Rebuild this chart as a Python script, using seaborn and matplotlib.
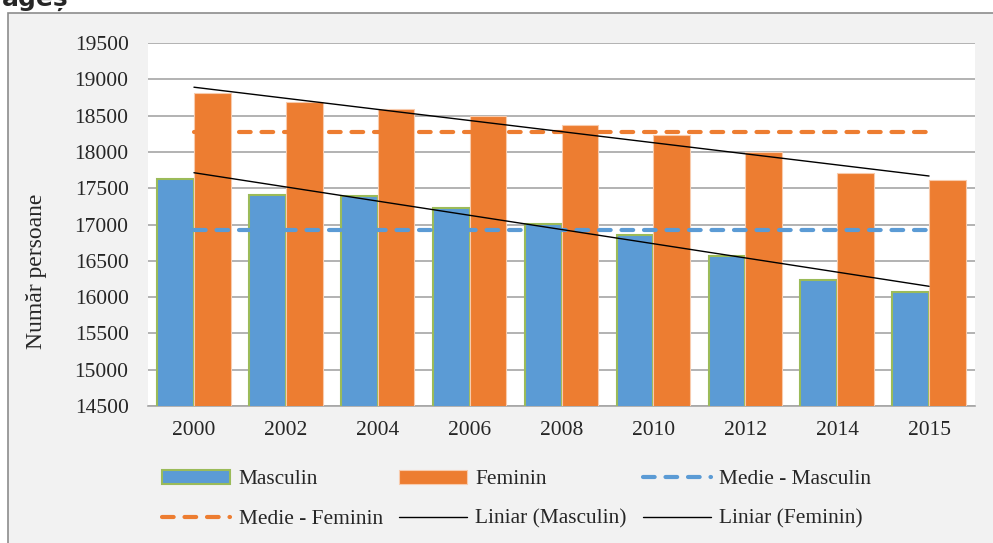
import numpy as np
import pandas as pd
import matplotlib
matplotlib.use('Agg')
import matplotlib.pyplot as plt
import matplotlib.patches as mpatches
from matplotlib.lines import Line2D
import seaborn as sns

# Date: numar persoane pe sexe
ani = ['2000', '2002', '2004', '2006', '2008', '2010', '2012', '2014', '2015']
masculin = [17620, 17406, 17390, 17227, 17010, 16855, 16566, 16235, 16070]
feminin = [18815, 18691, 18587, 18494, 18370, 18230, 18003, 17713, 17613]
y_ticks = list(range(14500, 20000, 500))

col_m = '#5b9bd5'
col_f = '#ed7d31'

df = pd.DataFrame({
    'An': ani * 2,
    'Numar': masculin + feminin,
    'Sex': ['Masculin'] * len(ani) + ['Feminin'] * len(ani),
})

sns.set_theme(style='white')
plt.rcParams['font.family'] = ['Liberation Serif', 'DejaVu Serif']

fig = plt.figure(figsize=(9.93, 5.43), dpi=100)
fig.patch.set_facecolor('white')

# fundal gri al graficului
bg = mpatches.Rectangle((8 / 993, -0.05), 1.1, 1 - 13 / 543 + 0.05,
                        transform=fig.transFigure, facecolor='#f2f2f2',
                        edgecolor='#8c8c8c', linewidth=1.2, zorder=-10)
fig.patches.append(bg)

# titlu taiat in partea de sus
fig.text(2 / 993, 1 - 6 / 543, 'ageș', fontsize=18, fontweight='bold',
         family=['DejaVu Sans'], va='baseline', ha='left')

ax = fig.add_axes([148 / 993, (543 - 406) / 543, 827 / 993, 363 / 543])
ax.set_facecolor('white')

sns.barplot(data=df, x='An', y='Numar', hue='Sex', palette=[col_m, col_f],
            width=0.8, saturation=1, ax=ax, legend=False, zorder=3)

for bar in ax.containers[0]:
    bar.set_edgecolor('#9bbb59')
    bar.set_linewidth(1.5)
for bar in ax.containers[1]:
    bar.set_edgecolor('#f8cbad')
    bar.set_linewidth(0.8)

x = np.arange(len(ani))
medie_m = np.mean(masculin)
medie_f = np.mean(feminin)
dash = (0, (2.8, 2.6))
ax.plot([x[0], x[-1]], [medie_m, medie_m], color=col_m, lw=3, ls=dash,
        dash_capstyle='round', zorder=4)
ax.plot([x[0], x[-1]], [medie_f, medie_f], color=col_f, lw=3, ls=dash,
        dash_capstyle='round', zorder=4)

# linii de tendinta liniara
pm = np.polyfit(x + 1, masculin, 1)
pf = np.polyfit(x + 1, feminin, 1)
ax.plot(x, np.polyval(pm, x + 1), color='black', lw=1, zorder=5)
ax.plot(x, np.polyval(pf, x + 1), color='black', lw=1, zorder=5)

ax.set_ylim(14500, 19500)
ax.set_xlim(-0.5, len(ani) - 0.5)
ax.set_yticks(y_ticks)
ax.set_yticklabels([str(v) for v in y_ticks], fontsize=15.5)
ax.set_xticks(x)
ax.set_xticklabels(ani, fontsize=15.5)
ax.tick_params(axis='y', length=0, pad=14)
ax.tick_params(axis='x', length=0, pad=11)
ax.yaxis.grid(True, color='#a6a6a6', linewidth=1.2, zorder=0)
ax.set_axisbelow(True)
for s in ['top', 'right', 'left']:
    ax.spines[s].set_visible(False)
ax.spines['bottom'].set_color('#a6a6a6')
ax.spines['bottom'].set_linewidth(1.2)

ax.set_xlabel('')
ax.set_ylabel('Număr persoane', fontsize=17)
ax.yaxis.set_label_coords((47 - 148) / 827, (406 - 271) / 363)

# legenda
h_m = mpatches.Patch(facecolor=col_m, edgecolor='#9bbb59', linewidth=1.5, label='Masculin')
h_f = mpatches.Patch(facecolor=col_f, edgecolor='#f8cbad', linewidth=0.8, label='Feminin')
h_mm = Line2D([], [], color=col_m, lw=3, ls=dash, dash_capstyle='round', label='Medie - Masculin')
h_mf = Line2D([], [], color=col_f, lw=3, ls=dash, dash_capstyle='round', label='Medie - Feminin')
h_lm = Line2D([], [], color='black', lw=1, label='Liniar (Masculin)')
h_lf = Line2D([], [], color='black', lw=1, label='Liniar (Feminin)')
handles = [h_m, h_mf, h_f, h_lm, h_mm, h_lf]
fig.legend(handles=handles, labels=[h.get_label() for h in handles], ncol=3,
           loc='upper left', bbox_to_anchor=(162 / 993, 1 - 470 / 543),
           frameon=False, fontsize=15.4, handlelength=3.2, handletextpad=0.38,
           handleheight=0.6, columnspacing=0.75, labelspacing=0.95,
           borderaxespad=0, borderpad=0)

plt.savefig('out.png', dpi=100, facecolor=fig.get_facecolor())
